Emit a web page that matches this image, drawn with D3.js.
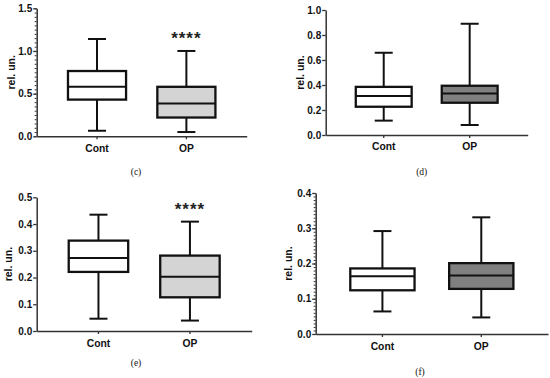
<!DOCTYPE html>
<html>
<head>
<meta charset="utf-8">
<script src="https://cdn.jsdelivr.net/npm/d3@7"></script>
<style>
  body { margin: 0; background: #fff; }
  svg { display: block; }
  .tick text { font-family: "Liberation Sans", Arial, sans-serif; font-weight: bold; }
</style>
</head>
<body>
<div id="vis-container"></div>
<script>
// categories and box statistics: [min, q1, median, q3, max]
var categories = ["Cont", "OP"];
var statsC = [[0.065, 0.43, 0.58, 0.765, 1.14], [0.05, 0.22, 0.385, 0.58, 1.0]];
var statsD = [[0.115, 0.226, 0.312, 0.385, 0.658], [0.08, 0.258, 0.333, 0.394, 0.89]];
var statsE = [[0.046, 0.221, 0.273, 0.338, 0.435], [0.039, 0.126, 0.203, 0.282, 0.409]];
var statsF = [[0.064, 0.124, 0.164, 0.186, 0.292], [0.047, 0.128, 0.166, 0.201, 0.331]];
var yMaxes = [1.5, 1.0, 0.5, 0.4];
var majorSteps = [0.5, 0.2, 0.1, 0.1];
var minorSteps = [0.05, 0, 0, 0.01];
var panelLabels = ["(c)", "(d)", "(e)", "(f)"];
var significance = ["****", "", "****", ""];

var width = 550, height = 378;

var svg = d3
  .select("#vis-container")
  .append("svg")
  .attr("width", width)
  .attr("height", height);

// layout of each panel
var panels = [
  { stats: statsC, x0: 36.7, x1: 246.7, yTop: 8.3, yBot: 136.3, fill: "#d4d4d4", catY: 151.5, labX: 136, labY: 175, ylabX: 11, starY: 44 },
  { stats: statsD, x0: 325.7, x1: 527.7, yTop: 10, yBot: 135, fill: "#808080", catY: 150, labX: 421.7, labY: 175, ylabX: 300, starY: 0 },
  { stats: statsE, x0: 36.7, x1: 251.7, yTop: 197.3, yBot: 331, fill: "#d4d4d4", catY: 346.5, labX: 136, labY: 366, ylabX: 8, starY: 215 },
  { stats: statsF, x0: 315.7, x1: 548, yTop: 193, yBot: 334, fill: "#808080", catY: 350, labX: 420, labY: 375, ylabX: 288.5, starY: 0 }
];

panels.forEach((p, i) => {
  var g = svg.append("g");

  var y = d3.scaleLinear().domain([0, yMaxes[i]]).range([p.yBot, p.yTop]);
  var x = d3
    .scaleBand()
    .domain(categories)
    .range([p.x0, p.x1])
    .paddingInner(0.35)
    .paddingOuter(0.35);

  // minor ticks
  if (minorSteps[i] > 0) {
    var minorVals = d3.range(0, yMaxes[i] + 1e-9, minorSteps[i]);
    g.append("g")
      .attr("transform", "translate(" + p.x0 + ",0)")
      .call(d3.axisLeft(y).tickValues(minorVals).tickSize(2).tickFormat(""))
      .call((a) => a.select(".domain").remove())
      .selectAll("line")
      .attr("stroke", "#333")
      .attr("stroke-width", 1);
  }

  // y axis
  var majorVals = d3.range(0, yMaxes[i] + 1e-9, majorSteps[i]);
  var yAxis = g
    .append("g")
    .attr("transform", "translate(" + p.x0 + ",0)")
    .call(d3.axisLeft(y).tickValues(majorVals).tickSize(3.5).tickPadding(1).tickSizeOuter(0).tickFormat(d3.format(".1f")));
  yAxis.select(".domain").attr("stroke", "#333").attr("stroke-width", 1.5);
  yAxis.selectAll(".tick line").attr("stroke", "#333").attr("stroke-width", 1.3);
  yAxis.selectAll(".tick text").attr("font-size", 10).attr("fill", "#111");

  // x axis
  var xAxis = g
    .append("g")
    .attr("transform", "translate(0," + p.yBot + ")")
    .call(d3.axisBottom(x).tickSize(3).tickSizeOuter(0).tickFormat(""));
  xAxis.select(".domain").attr("stroke", "#333").attr("stroke-width", 1.5);
  xAxis.selectAll(".tick line").attr("stroke", "#333").attr("stroke-width", 1.3);

  // category labels
  g.selectAll(".cat")
    .data(categories)
    .enter()
    .append("text")
    .attr("class", "cat")
    .attr("x", (d) => x(d) + x.bandwidth() / 2)
    .attr("y", p.catY)
    .attr("text-anchor", "middle")
    .attr("font-family", "Liberation Sans, Arial, sans-serif")
    .attr("font-weight", "bold")
    .attr("font-size", 10.3)
    .attr("fill", "#111")
    .text((d) => d);

  // y label
  g.append("text")
    .attr("transform", "translate(" + p.ylabX + "," + (p.yTop + p.yBot) / 2 + ") rotate(-90)")
    .attr("text-anchor", "middle")
    .attr("dy", "0.35em")
    .attr("font-family", "Liberation Sans, Arial, sans-serif")
    .attr("font-weight", "bold")
    .attr("font-size", 10.5)
    .attr("fill", "#111")
    .text("rel. un.");

  // panel label
  g.append("text")
    .attr("x", p.labX)
    .attr("y", p.labY)
    .attr("text-anchor", "middle")
    .attr("font-family", "Liberation Serif, Times New Roman, serif")
    .attr("font-size", 9.5)
    .attr("fill", "#111")
    .text(panelLabels[i]);

  // boxes
  var boxes = g
    .selectAll(".box")
    .data(p.stats)
    .enter()
    .append("g")
    .attr("class", "box");

  var cx = (d, j) => x(categories[j]) + x.bandwidth() / 2;
  var capW = 9;

  boxes
    .append("line")
    .attr("x1", cx)
    .attr("x2", cx)
    .attr("y1", (d) => y(d[0]))
    .attr("y2", (d) => y(d[4]))
    .attr("stroke", "#111")
    .attr("stroke-width", 2);

  boxes
    .append("line")
    .attr("x1", (d, j) => cx(d, j) - capW)
    .attr("x2", (d, j) => cx(d, j) + capW)
    .attr("y1", (d) => y(d[4]))
    .attr("y2", (d) => y(d[4]))
    .attr("stroke", "#111")
    .attr("stroke-width", 2);

  boxes
    .append("line")
    .attr("x1", (d, j) => cx(d, j) - capW)
    .attr("x2", (d, j) => cx(d, j) + capW)
    .attr("y1", (d) => y(d[0]))
    .attr("y2", (d) => y(d[0]))
    .attr("stroke", "#111")
    .attr("stroke-width", 2);

  boxes
    .append("rect")
    .attr("x", (d, j) => x(categories[j]))
    .attr("width", x.bandwidth())
    .attr("y", (d) => y(d[3]))
    .attr("height", (d) => y(d[1]) - y(d[3]))
    .attr("fill", (d, j) => (j === 0 ? "#fff" : p.fill))
    .attr("stroke", "#111")
    .attr("stroke-width", 2.3);

  boxes
    .append("line")
    .attr("x1", (d, j) => x(categories[j]))
    .attr("x2", (d, j) => x(categories[j]) + x.bandwidth())
    .attr("y1", (d) => y(d[2]))
    .attr("y2", (d) => y(d[2]))
    .attr("stroke", "#111")
    .attr("stroke-width", 2);

  // significance stars
  if (significance[i]) {
    g.append("text")
      .attr("x", x("OP") + x.bandwidth() / 2)
      .attr("y", p.starY)
      .attr("text-anchor", "middle")
      .attr("font-family", "Liberation Sans, Arial, sans-serif")
      .attr("font-weight", "bold")
      .attr("font-size", 17)
      .attr("letter-spacing", 1)
      .attr("fill", "#222")
      .text(significance[i]);
  }
});
</script>
</body>
</html>
